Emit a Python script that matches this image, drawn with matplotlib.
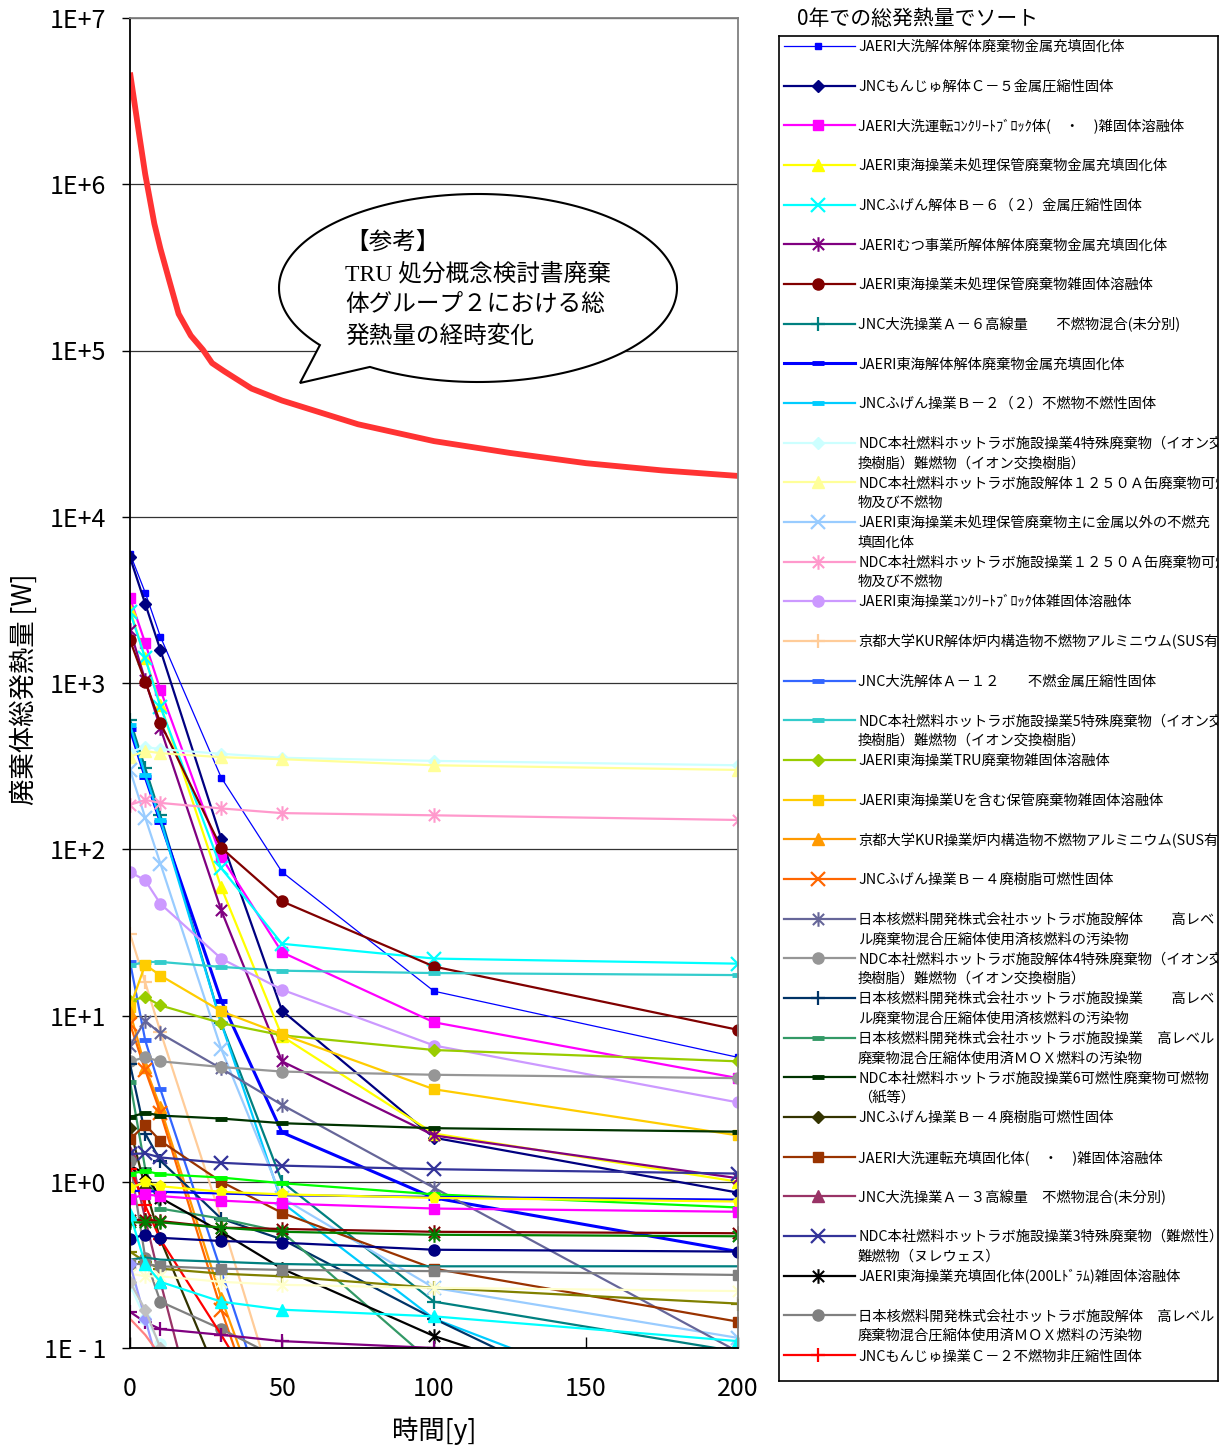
import numpy as np
import matplotlib
matplotlib.use("Agg")
import matplotlib.pyplot as plt
from matplotlib.path import Path
from matplotlib.patches import PathPatch
from matplotlib.ticker import NullLocator

plt.rcParams['font.family'] = ['Noto Sans CJK JP', 'DejaVu Sans']

# years at which the heat values were read
years = [0, 5, 10, 30, 50, 100, 200]

# total heat [W], one list per waste type (legend order)
w01 = [6000, 3500, 1900, 270, 73, 14, 5.6]
w02 = [5700, 3000, 1580, 116, 10.7, 1.84, 0.86]
w03 = [3240, 1740, 910, 90, 24, 9.1, 4.2]
w04 = [2750, 1410, 740, 59, 7.5, 1.95, 1.0]
w05 = [2680, 1410, 720, 77, 27, 22, 20.5]
w06 = [2080, 1040, 536, 43, 5.3, 1.9, 1.05]
w07 = [1810, 1020, 575, 102, 48.6, 19.7, 8.2]
w08 = [600, 308, 160, 9, 1.0, 0.19, 0.095]
w09 = [530, 272, 146, 12.3, 1.98, 0.8, 0.38]
w10 = [560, 280, 150, 9, 0.75, 0.15, 0.03]
w11 = [385, 412, 400, 375, 355, 340, 320]
w12 = [360, 390, 378, 358, 348, 320, 300]
w13 = [300, 155, 82, 6.3, 0.8, 0.23, 0.115]
w14 = [185, 198, 190, 176, 165, 160, 150]
w15 = [73, 65, 47, 22, 14.3, 6.6, 3.0]
w16 = [31, 15.8, 8, 0.6, 0.038, 0.001, 0.0001]
w17 = [21, 7.1, 3.6, 0.29, 0.023, 0.0001, 0.000001]
w18 = [20, 21, 21, 19.6, 18.6, 18, 17.5]
w19 = [12.3, 12.9, 11.5, 9.0, 7.6, 6.2, 5.3]
w20 = [11.2, 20.2, 17.4, 10.6, 7.7, 3.6, 1.9]
w21 = [10.5, 4.9, 2.8, 0.2, 0.02, 0.0001, 0.000001]
w22 = [8.9, 4.7, 2.6, 0.17, 0.015, 0.0001, 0.000001]
w23 = [6.6, 9.3, 7.8, 4.8, 2.9, 0.92, 0.095]
w24 = [5.3, 5.6, 5.3, 4.9, 4.6, 4.4, 4.2]
w25 = [5.1, 1.95, 1.34, 0.6, 0.45, 0.15, 0.02]
w26 = [4.0, 1.2, 0.69, 0.6, 0.5, 0.08, 0.01]
w27 = [2.45, 2.6, 2.5, 2.4, 2.25, 2.1, 2.0]
w28 = [2.1, 0.92, 0.45, 0.06, 0.01, 0.0001, 0.000001]
w29 = [1.8, 2.2, 1.76, 1.0, 0.65, 0.30, 0.144]
w30 = [1.5, 0.6, 0.25, 0.01, 0.001, 0.00001, 0.0000001]
w31 = [1.47, 1.48, 1.4, 1.3, 1.25, 1.19, 1.12]
w32 = [1.25, 1.12, 0.8, 0.5, 0.3, 0.118, 0.03]
w33 = [1.34, 0.35, 0.19, 0.13, 0.085, 0.02, 0.002]
w34 = [1.2, 0.72, 0.45, 0.12, 0.03, 0.0001, 0.000001]

# further series that do not fit in the legend
x01 = [1.12, 1.16, 1.11, 1.06, 0.98, 0.84, 0.70]
x02 = [0.88, 0.88, 0.87, 0.85, 0.83, 0.81, 0.78]
x03 = [0.92, 0.99, 0.94, 0.87, 0.84, 0.80, 0.76]
x04 = [0.79, 0.84, 0.82, 0.77, 0.74, 0.69, 0.66]
x05 = [0.59, 0.59, 0.58, 0.53, 0.52, 0.50, 0.49]
x06 = [0.57, 0.57, 0.57, 0.53, 0.50, 0.48, 0.47]
x07 = [0.455, 0.48, 0.46, 0.44, 0.43, 0.39, 0.38]
x08 = [0.38, 0.33, 0.30, 0.28, 0.27, 0.23, 0.185]
x09 = [0.34, 0.35, 0.34, 0.33, 0.32, 0.31, 0.31]
x10 = [0.32, 0.32, 0.31, 0.30, 0.295, 0.29, 0.275]
x11 = [0.28, 0.27, 0.27, 0.25, 0.24, 0.23, 0.22]
x12 = [0.64, 0.32, 0.25, 0.19, 0.17, 0.155, 0.11]
x13 = [0.165, 0.143, 0.13, 0.12, 0.11, 0.10, 0.09]
x14 = [0.24, 0.15, 0.106, 0.05, 0.02, 0.001, 0.00001]
x15 = [0.32, 0.15, 0.07, 0.01, 0.001, 0.00001, 0.0000001]
x16 = [0.15, 0.12, 0.09, 0.01, 0.001, 0.00001, 0.0000001]
x17 = [0.25, 0.17, 0.1, 0.02, 0.002, 0.00001, 0.0000001]

# reference curve (TRU report, group 2 total)
ref_years = [0, 3, 5, 8, 10, 13, 16, 20, 24, 27, 31, 40, 50, 75, 100, 125, 150, 175, 200]
ref_heat = [4.7e6, 2.0e6, 1.15e6, 5.8e5, 4.1e5, 2.6e5, 1.66e5, 1.23e5, 1.01e5, 8.4e4,
            7.5e4, 5.9e4, 5.0e4, 3.6e4, 2.85e4, 2.42e4, 2.1e4, 1.9e4, 1.76e4]

labels = [
    "JAERI大洗解体解体廃棄物金属充填固化体",
    "JNCもんじゅ解体Ｃ－５金属圧縮性固体",
    "JAERI大洗運転ｺﾝｸﾘｰﾄﾌﾞﾛｯｸ体(　・　)雑固体溶融体",
    "JAERI東海操業未処理保管廃棄物金属充填固化体",
    "JNCふげん解体Ｂ－６（２）金属圧縮性固体",
    "JAERIむつ事業所解体解体廃棄物金属充填固化体",
    "JAERI東海操業未処理保管廃棄物雑固体溶融体",
    "JNC大洗操業Ａ－６高線量　　不燃物混合(未分別)",
    "JAERI東海解体解体廃棄物金属充填固化体",
    "JNCふげん操業Ｂ－２（２）不燃物不燃性固体",
    "NDC本社燃料ホットラボ施設操業4特殊廃棄物（イオン交\n換樹脂）難燃物（イオン交換樹脂）",
    "NDC本社燃料ホットラボ施設解体１２５０Ａ缶廃棄物可燃\n物及び不燃物",
    "JAERI東海操業未処理保管廃棄物主に金属以外の不燃充\n填固化体",
    "NDC本社燃料ホットラボ施設操業１２５０Ａ缶廃棄物可燃\n物及び不燃物",
    "JAERI東海操業ｺﾝｸﾘｰﾄﾌﾞﾛｯｸ体雑固体溶融体",
    "京都大学KUR解体炉内構造物不燃物アルミニウム(SUS有)",
    "JNC大洗解体Ａ－１２　　不燃金属圧縮性固体",
    "NDC本社燃料ホットラボ施設操業5特殊廃棄物（イオン交\n換樹脂）難燃物（イオン交換樹脂）",
    "JAERI東海操業TRU廃棄物雑固体溶融体",
    "JAERI東海操業Uを含む保管廃棄物雑固体溶融体",
    "京都大学KUR操業炉内構造物不燃物アルミニウム(SUS有)",
    "JNCふげん操業Ｂ－４廃樹脂可燃性固体",
    "日本核燃料開発株式会社ホットラボ施設解体　　高レベ\nル廃棄物混合圧縮体使用済核燃料の汚染物",
    "NDC本社燃料ホットラボ施設解体4特殊廃棄物（イオン交\n換樹脂）難燃物（イオン交換樹脂）",
    "日本核燃料開発株式会社ホットラボ施設操業　　高レベ\nル廃棄物混合圧縮体使用済核燃料の汚染物",
    "日本核燃料開発株式会社ホットラボ施設操業　高レベル\n廃棄物混合圧縮体使用済ＭＯＸ燃料の汚染物",
    "NDC本社燃料ホットラボ施設操業6可燃性廃棄物可燃物\n（紙等）",
    "JNCふげん操業Ｂ－４廃樹脂可燃性固体",
    "JAERI大洗運転充填固化体(　・　)雑固体溶融体",
    "JNC大洗操業Ａ－３高線量　不燃物混合(未分別)",
    "NDC本社燃料ホットラボ施設操業3特殊廃棄物（難燃性）\n難燃物（ヌレウェス）",
    "JAERI東海操業充填固化体(200Lﾄﾞﾗﾑ)雑固体溶融体",
    "日本核燃料開発株式会社ホットラボ施設解体　高レベル\n廃棄物混合圧縮体使用済ＭＯＸ燃料の汚染物",
    "JNCもんじゅ操業Ｃ－２不燃物非圧縮性固体",
]

series = [w01, w02, w03, w04, w05, w06, w07, w08, w09, w10, w11, w12,
          w13, w14, w15, w16, w17, w18, w19, w20, w21, w22, w23, w24,
          w25, w26, w27, w28, w29, w30, w31, w32, w33, w34]
colors = ['#0000ff', '#000080', '#ff00ff', '#ffff00', '#00ffff', '#800080',
          '#800000', '#008080', '#0000ff', '#00ccff', '#ccffff', '#ffff99',
          '#99ccff', '#ff99cc', '#cc99ff', '#ffcc99', '#3366ff', '#33cccc',
          '#99cc00', '#ffcc00', '#ff9900', '#ff6600', '#666699', '#969696',
          '#003366', '#339966', '#003300', '#333300', '#993300', '#993366',
          '#333399', '#000000', '#808080', '#ff0000']
marks = ['s', 'D', 's', '^', 'x', '*', 'o', '+', '-', '-', 'D', '^',
         'x', '*', 'o', '+', '-', '-', 'D', 's', '^', 'x', '*', 'o',
         '+', '-', '-', 'D', 's', '^', 'x', '*', 'o', '+']

extras = [x01, x02, x03, x04, x05, x06, x07, x08, x09, x10, x11, x12, x13, x14, x15, x16, x17]
extra_colors = ['#00ff00', '#0000ff', '#ffff00', '#ff00ff', '#800000', '#008000',
                '#000080', '#808000', '#008080', '#808080', '#ffffcc', '#00ffff',
                '#800080', '#ccffff', '#9999ff', '#ff8080', '#c0c0c0']
extra_marks = ['-', '', 'p', 's', '*', '*', 'o', '+', '', 's', '*', '^',
               '+', 'o', 'D', '', 'D']

# Excel style asterisk: x plus a vertical bar
ASTER = Path([(-1, -1), (1, 1), (-1, 1), (1, -1), (0, -1.3), (0, 1.3)],
             [Path.MOVETO, Path.LINETO] * 3)


def style(color, mk):
    kw = dict(color=color, mec=color, mfc=color)
    if mk == '':
        return kw
    if mk == '*':
        kw.update(marker=ASTER, ms=10.5, mew=1.5, mfc='none')
    elif mk == '-':
        kw.update(marker='_', ms=9, mew=3.5)
    elif mk in ('x', '+'):
        kw.update(marker=mk, ms=9.5, mew=1.6)
    elif mk == 'D':
        kw.update(marker='D', ms=6.5)
    elif mk == 's':
        kw.update(marker='s', ms=7)
    else:
        kw.update(marker=mk, ms=8)
    return kw


W, H = 1230, 1445
fig = plt.figure(figsize=(W / 100, H / 100), dpi=100)


def fx(px):
    return px / W


def fy(py):
    return 1 - py / H


ax = fig.add_axes([fx(130), fy(1348), (738 - 130) / W, (1348 - 18) / H])
ax.set_yscale('log')
ax.set_xlim(0, 200)
ax.set_ylim(0.1, 1e7)

for i, (vals, c, mk) in enumerate(zip(series, colors, marks)):
    kw = style(c, mk)
    lw = 1.6
    if i == 0:
        lw = 0.9
        kw['ms'] = 5
    if i == 8:
        lw = 2.2
    ax.plot(years, vals, lw=lw, **kw)

for vals, c, mk in zip(extras, extra_colors, extra_marks):
    ax.plot(years, vals, lw=1.6, **style(c, mk))

ax.plot(ref_years, ref_heat, color='#ff3333', lw=4.2, solid_capstyle='butt',
        solid_joinstyle='round')

ax.set_yticks([10.0 ** k for k in range(-1, 8)])
ax.set_yticklabels(['1E - 1', '1E+0', '1E+1', '1E+2', '1E+3', '1E+4', '1E+5', '1E+6', '1E+7'])
ax.yaxis.set_minor_locator(NullLocator())
ax.set_xticks([0, 50, 100, 150, 200])
ax.tick_params(axis='y', direction='out', length=6, width=1, pad=11, labelsize=18)
ax.tick_params(axis='x', direction='in', length=8, width=1, pad=20, labelsize=18)
ax.yaxis.grid(True, color='#333333', lw=0.9)
ax.set_axisbelow(True)
for side in ('left', 'bottom'):
    ax.spines[side].set_color('black')
    ax.spines[side].set_linewidth(1.3)
for side in ('top', 'right'):
    ax.spines[side].set_color('#808080')
    ax.spines[side].set_linewidth(1.3)

ax.set_xlabel('時間[y]', fontsize=19)
ax.xaxis.set_label_coords(0.5, -0.052)
ax.set_ylabel('廃棄体総発熱量 [W]', fontsize=19)
ax.yaxis.set_label_coords(-0.152, 0.495)

# speech balloon
ov = fig.add_axes([0, 0, 1, 1], facecolor='none')
ov.set_xlim(0, W)
ov.set_ylim(H, 0)
ov.axis('off')
cx, cy, ra, rb = 478, 288, 199, 94
t = np.radians(np.linspace(122.9, 142.6 - 360, 200))
pts = list(zip(cx + ra * np.cos(t), cy + rb * np.sin(t)))
pts.append((300, 383))
pts.append(pts[0])
balloon = Path(pts, [Path.MOVETO] + [Path.LINETO] * (len(pts) - 2) + [Path.CLOSEPOLY])
ov.add_patch(PathPatch(balloon, facecolor='white', edgecolor='black', lw=1.5, zorder=5))
note_lines = ['【参考】', 'TRU 処分概念検討書廃棄', '体グループ２における総', '発熱量の経時変化']
for k, line in enumerate(note_lines):
    ov.text(345, 243 + k * 31, line, fontsize=17, va='center', ha='left', zorder=6,
            family=['Liberation Serif', 'Noto Sans CJK JP'])

# legend drawn in its own box
fig.text(fx(797), fy(19), '0年での総発熱量でソート', fontsize=15, va='center', ha='left')
lax = fig.add_axes([fx(779), fy(1381), (1218 - 779) / W, (1381 - 36) / H])
lax.set_xlim(779, 1218)
lax.set_ylim(1381, 36)
lax.set_xticks([])
lax.set_yticks([])
for sp in lax.spines.values():
    sp.set_color('black')
    sp.set_linewidth(1.2)
for i, (lab, c, mk) in enumerate(zip(labels, colors, marks)):
    y = 46 + i * 39.67
    lw = 0.9 if i == 0 else (2.2 if i == 8 else 1.6)
    lax.plot([784, 855], [y, y], color=c, lw=lw)
    kw = style(c, mk)
    if i == 0:
        kw['ms'] = 5
    lax.plot([818], [y], ls='none', **kw)
    for k, part in enumerate(lab.split('\n')):
        lax.text(858, y + 1 + k * 19.5, part, fontsize=10.3, va='center', ha='left', clip_on=True)

fig.savefig('out.png', dpi=100)
